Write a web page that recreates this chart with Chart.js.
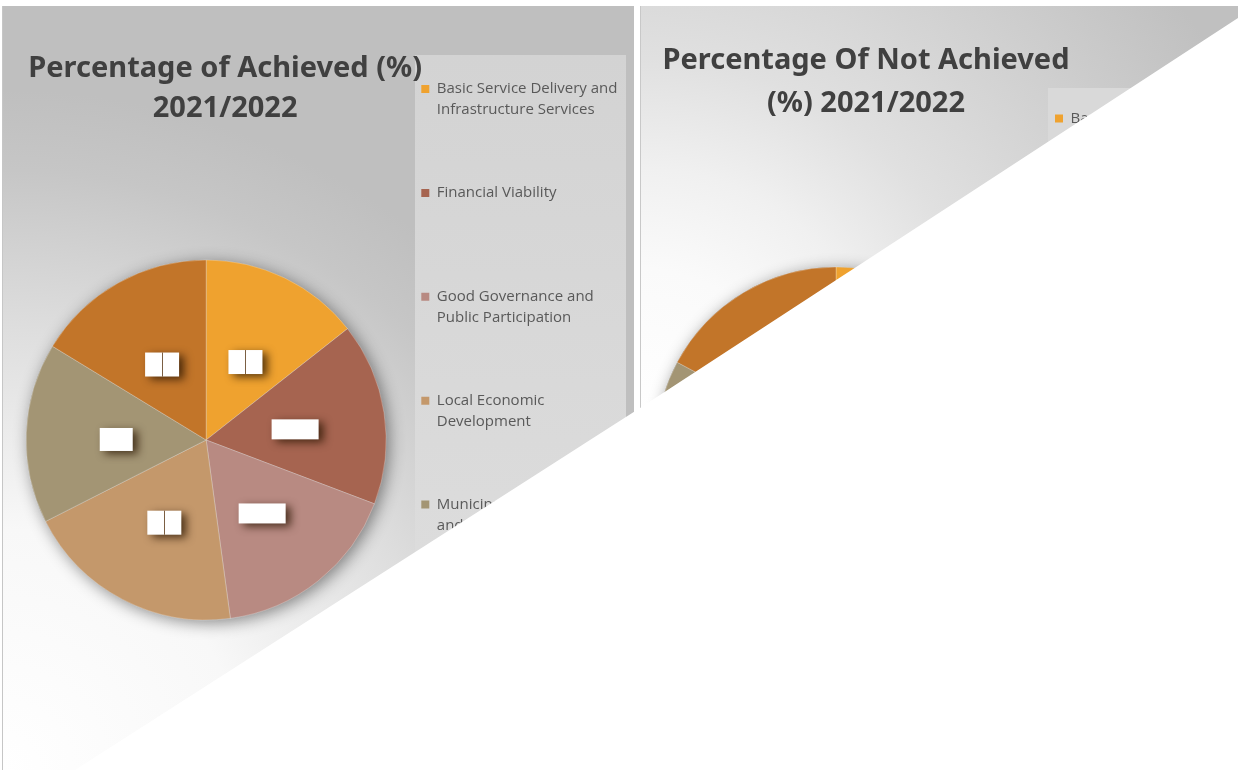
<!DOCTYPE html>
<html>
<head>
<meta charset="utf-8">
<title>Percentage of Achieved / Not Achieved 2021/2022</title>
<script src="https://cdn.jsdelivr.net/npm/chart.js@4.4.1/dist/chart.umd.min.js"></script>
<style>
  html, body { margin: 0; padding: 0; background: #fff; }
  body { width: 1238px; height: 770px; position: relative; overflow: hidden; font-family: "Open Sans", sans-serif; }
  .bg { position: absolute; }
  #panel1 { left: 2px; top: 6px; width: 632px; height: 764px; box-sizing: border-box; border-left: 1px solid #c6c6c6;
    background: radial-gradient(circle at 0% 100%, #fff 0, #f8f8f8 240px, #dedede 440px, #c6c6c6 600px, #bfbfbf 680px); }
  #legendBox1 { left: 415px; top: 55px; width: 211px; height: 715px;
    background: linear-gradient(to bottom, #d3d3d3, #e0e0e0); }
  #divider { left: 640px; top: 6px; width: 1px; height: 764px; background: #c8c8c8; }
  #panel2 { left: 641px; top: 6px; width: 597px; height: 764px;
    background: radial-gradient(circle at 0% 54%, #fff 0, #fafafa 150px, #f0f0f0 250px, #e0e0e0 360px, #d8d8d8 440px, #c0c0c0 680px); }
  #legendBox2 { left: 1048px; top: 88px; width: 190px; height: 682px; background: #d9d9d9; }
  canvas { position: absolute; top: 6px; }
  #chart1 { left: 2px; }
  #chart2 { left: 637px; }
  #cut { position: absolute; left: 0; top: 0; width: 1238px; height: 770px; background: #fff;
    clip-path: polygon(75px 770px, 640px 408px, 1238px 18px, 1238px 770px); }
</style>
</head>
<body>
<div class="bg" id="panel1"></div>
<div class="bg" id="legendBox1"></div>
<div class="bg" id="divider"></div>
<div class="bg" id="panel2"></div>
<div class="bg" id="legendBox2"></div>
<canvas id="chart1" width="632" height="854"></canvas>
<canvas id="chart2" width="601" height="869"></canvas>
<div id="cut"></div>
<script>
// 데이터
const categories = [
    ['Basic Service Delivery and', 'Infrastructure Services'],
    ['Financial Viability'],
    ['Good Governance and', 'Public Participation'],
    ['Local Economic', 'Development'],
    ['Municipal Transformation', 'and Organisational', 'Development'],
    ['Spatial Rationale']
];
const achieved = [14.4, 16.4, 17.1, 19.7, 16.2, 16.3];
const notAchieved = [22.4, 15.5, 13.8, 17.6, 13.5, 17.2];
const sliceColors = ['#efa22f', '#a66450', '#b88a82', '#c4986b', '#a39574', '#c27529'];

// 범례 줄 맞춤 (3줄)
const legendLabels = categories.map(c => c.concat(['', '', ''].slice(c.length)));

// 파이 뒤 그림자
const pieShadow = {
    id: 'pieShadow',
    beforeDatasetsDraw(chart) {
        const arc = chart.getDatasetMeta(0).data[0];
        if (!arc) return;
        const ctx = chart.ctx;
        ctx.save();
        ctx.shadowColor = 'rgba(0,0,0,0.45)';
        ctx.shadowBlur = 16;
        ctx.shadowOffsetX = 3;
        ctx.shadowOffsetY = 3;
        ctx.fillStyle = '#999';
        ctx.beginPath();
        ctx.arc(arc.x, arc.y, arc.outerRadius, 0, Math.PI * 2);
        ctx.fill();
        ctx.restore();
    }
};

// 데이터 라벨 (흰 상자)
const labelBoxes = {
    id: 'labelBoxes',
    afterDatasetsDraw(chart, args, opts) {
        const ctx = chart.ctx;
        chart.getDatasetMeta(0).data.forEach((arc, i) => {
            const p = arc.tooltipPosition();
            const [w, h, n] = opts.sizes[i];
            const x = p.x - w / 2, y = p.y + 3 - h / 2;
            ctx.save();
            ctx.shadowColor = 'rgba(40,20,0,0.75)';
            ctx.shadowBlur = 8;
            ctx.shadowOffsetX = 5;
            ctx.shadowOffsetY = 3;
            ctx.fillStyle = '#fff';
            ctx.fillRect(x, y, w, h);
            ctx.restore();
            if (n === 2) {
                ctx.save();
                ctx.fillStyle = 'rgba(90,55,20,0.8)';
                ctx.fillRect(Math.round(p.x), y, 1, h);
                ctx.restore();
            }
        });
    }
};

// 제목 (파이 중심 기준, 두 줄)
const panelTitle = {
    id: 'panelTitle',
    afterDraw(chart, args, opts) {
        const ctx = chart.ctx;
        const area = chart.chartArea;
        ctx.save();
        ctx.font = 'bold 29px "Noto Sans"';
        ctx.fillStyle = '#404040';
        ctx.textAlign = 'center';
        ctx.textBaseline = 'middle';
        opts.text.forEach((line, i) => {
            ctx.fillText(line, (area.left + area.right) / 2 + opts.shift, opts.top + i * opts.lineHeight);
        });
        ctx.restore();
    }
};

function makePie(id, values, title, layoutPad, legendPad, legendMax) {
    return new Chart(document.getElementById(id), {
        type: 'pie',
        data: {
            labels: legendLabels,
            datasets: [{
                data: values,
                backgroundColor: sliceColors,
                borderColor: 'rgba(255,255,255,0.25)',
                borderWidth: 1,
                radius: 180
            }]
        },
        options: {
            responsive: false,
            animation: false,
            events: [],
            layout: { padding: layoutPad },
            plugins: {
                title: { display: false },
                panelTitle: title,
                legend: {
                    position: 'right',
                    align: 'start',
                    maxWidth: legendMax,
                    labels: {
                        boxWidth: 8,
                        boxHeight: 8,
                        padding: legendPad,
                        color: '#595959',
                        font: { family: 'Open Sans', size: 15, lineHeight: '20.8px' },
                        generateLabels(chart) {
                            return Chart.overrides.pie.plugins.legend.labels.generateLabels(chart)
                                .map(item => Object.assign(item, { lineWidth: 0 }));
                        }
                    }
                },
                tooltip: { enabled: false },
                labelBoxes: {
                    sizes: [[34, 24, 2], [47, 20, 1], [47, 20, 1], [34, 24, 2], [33, 23, 1], [34, 24, 2]]
                }
            }
        },
        plugins: [pieShadow, labelBoxes, panelTitle]
    });
}

makePie('chart1', achieved,
    { text: ['Percentage of Achieved (%)', '2021/2022'], shift: 19, top: 63, lineHeight: 40 },
    { top: 34, bottom: 20, left: 30.5, right: 6.5 }, 41.5, 300);
makePie('chart2', notAchieved,
    { text: ['Percentage Of Not Achieved', '(%) 2021/2022'], shift: 30, top: 55, lineHeight: 43 },
    { top: 33, bottom: 20, left: 52, right: 35 }, 72, 220);
</script>
</body>
</html>
